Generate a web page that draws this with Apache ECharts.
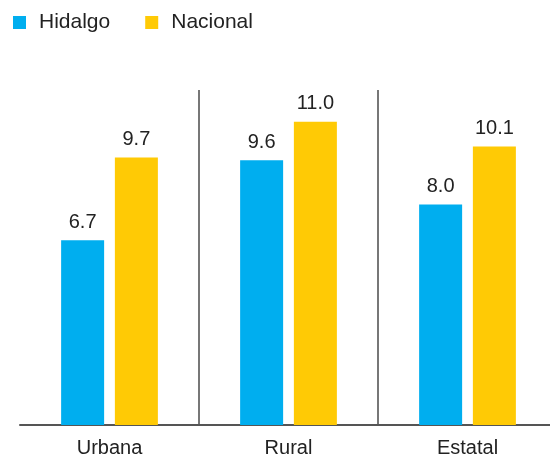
<!DOCTYPE html>
<html>
<head>
<meta charset="utf-8">
<script src="https://cdn.jsdelivr.net/npm/echarts@6/dist/echarts.min.js"></script>
<style>
  html, body { margin: 0; padding: 0; background: #fff; }
  #chart { width: 550px; height: 457px; }
</style>
</head>
<body>
<div id="chart"></div>
<script>
// datos
var categorias = ['Urbana', 'Rural', 'Estatal'];
var hidalgo = [6.7, 9.6, 8.0];
var nacional = [9.7, 11.0, 10.1];

window.onload = function () {
  drawChart();
};

function drawChart() {
  var myChart = echarts.init(document.getElementById('chart'));
  var fuente = '"Liberation Sans", Arial, sans-serif';

  var etiqueta = {
    show: true,
    position: 'top',
    distance: 8,
    color: '#222',
    fontSize: 20,
    fontFamily: fuente,
    formatter: function (p) { return p.value.toFixed(1); }
  };

  var option = {
    animation: false,
    legend: {
      left: 13,
      top: 12,
      padding: 0,
      itemWidth: 13,
      itemHeight: 13,
      itemGap: 35,
      icon: 'rect',
      textStyle: { fontSize: 21, color: '#222', fontFamily: fuente, padding: [0, 0, 0, 8] },
      data: ['Hidalgo', 'Nacional']
    },
    grid: { left: 20, top: 90, width: 537, bottom: 32, containLabel: false, outerBoundsMode: 'none' },
    xAxis: {
      type: 'category',
      data: categorias,
      axisLine: { lineStyle: { color: '#555', width: 2 } },
      axisTick: { show: false },
      axisLabel: { fontSize: 20, color: '#222', fontFamily: fuente, margin: 13 },
      splitLine: {
        show: true,
        showMinLine: false,
        showMaxLine: false,
        lineStyle: { color: '#777', width: 2 }
      }
    },
    yAxis: {
      type: 'value',
      min: 0,
      max: 12.15,
      show: false,
      splitLine: { show: false }
    },
    series: [
      {
        name: 'Hidalgo',
        type: 'bar',
        data: hidalgo,
        barWidth: 43,
        barGap: '25%',
        itemStyle: { color: '#00AEEF' },
        label: etiqueta
      },
      {
        name: 'Nacional',
        type: 'bar',
        data: nacional,
        barWidth: 43,
        itemStyle: { color: '#FFCA05' },
        label: etiqueta
      }
    ]
  };

  myChart.setOption(option);
}
</script>
</body>
</html>
